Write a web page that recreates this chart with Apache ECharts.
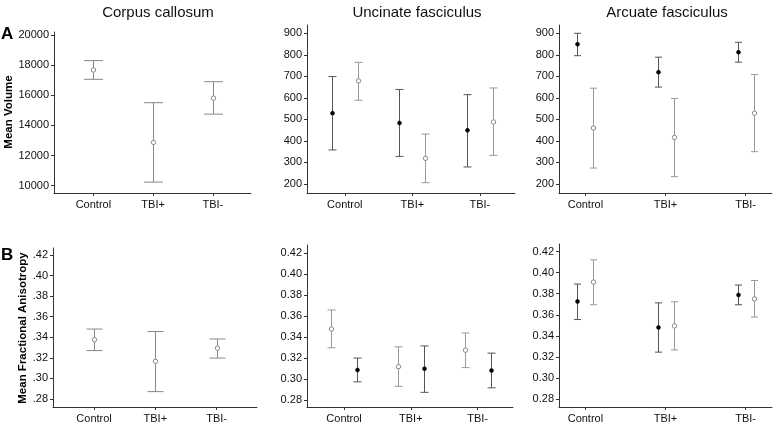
<!DOCTYPE html>
<html>
<head>
<meta charset="utf-8">
<script src="https://cdn.jsdelivr.net/npm/echarts@6/dist/echarts.min.js"></script>
<style>
  html,body{margin:0;padding:0;background:#fff;}
  #chart{width:773px;height:424px;}
</style>
</head>
<body>
<div id="chart"></div>
<script>
// groups on the x axis
var groups = ['Control', 'TBI+', 'TBI-'];
var volTicks = [200, 300, 400, 500, 600, 700, 800, 900];
var ccVolTicks = [10000, 12000, 14000, 16000, 18000, 20000];
var faTicks = [0.28, 0.30, 0.32, 0.34, 0.36, 0.38, 0.40, 0.42];

// A: volume
var ccVolMean = [17680, 12870, 15810];
var ccVolLow = [17060, 10240, 14750];
var ccVolHigh = [18300, 15510, 16900];

var ufVolMeanF = [529, 483, 449];
var ufVolLowF = [358, 328, 279];
var ufVolHighF = [699, 639, 615];
var ufVolMeanO = [679, 319, 488];
var ufVolLowO = [589, 206, 333];
var ufVolHighO = [765, 432, 646];

var afVolMeanF = [849, 719, 812];
var afVolLowF = [796, 650, 766];
var afVolHighF = [900, 789, 858];
var afVolMeanO = [460, 416, 529];
var afVolLowO = [274, 234, 350];
var afVolHighO = [645, 597, 708];

// B: fractional anisotropy
var ccFaMean = [0.3376, 0.3165, 0.3293];
var ccFaLow = [0.3270, 0.2870, 0.3197];
var ccFaHigh = [0.3480, 0.3456, 0.3383];

var ufFaMeanO = [0.3477, 0.3118, 0.3275];
var ufFaLowO = [0.3298, 0.2930, 0.3109];
var ufFaHighO = [0.3659, 0.3307, 0.3439];
var ufFaMeanF = [0.3086, 0.3099, 0.3081];
var ufFaLowF = [0.2973, 0.2873, 0.2916];
var ufFaHighF = [0.3200, 0.3316, 0.3247];

var afFaMeanF = [0.3726, 0.3480, 0.3788];
var afFaLowF = [0.3555, 0.3246, 0.3695];
var afFaHighF = [0.3891, 0.3713, 0.3882];
var afFaMeanO = [0.3910, 0.3495, 0.3751];
var afFaLowO = [0.3695, 0.3267, 0.3579];
var afFaHighO = [0.4121, 0.3723, 0.3925];

var FONT = '"Liberation Sans", Arial, sans-serif';
var AXIS_COLOR = '#333';

function rows(mean, low, high) {
  return groups.map(function (g, i) { return [i, mean[i], low[i], high[i]]; });
}

// error bar + point
function errSeries(idx, data, offset, capW, barColor, filled) {
  return {
    type: 'custom',
    xAxisIndex: idx,
    yAxisIndex: idx,
    data: data,
    encode: { x: 0, y: [1, 2, 3] },
    silent: true,
    renderItem: function (params, api) {
      var pm = api.coord([api.value(0), api.value(1)]);
      var pl = api.coord([api.value(0), api.value(2)]);
      var ph = api.coord([api.value(0), api.value(3)]);
      var cx = Math.round(pm[0] + offset) + 0.5;
      var ls = { stroke: barColor, lineWidth: 1 };
      return {
        type: 'group',
        children: [
          { type: 'line', shape: { x1: cx, y1: ph[1], x2: cx, y2: pl[1] }, style: ls },
          { type: 'line', shape: { x1: cx - capW / 2, y1: ph[1], x2: cx + capW / 2, y2: ph[1] }, style: ls },
          { type: 'line', shape: { x1: cx - capW / 2, y1: pl[1], x2: cx + capW / 2, y2: pl[1] }, style: ls },
          filled
            ? { type: 'circle', shape: { cx: cx, cy: pm[1], r: 2 }, style: { fill: '#000', stroke: '#000', lineWidth: 0.5 } }
            : { type: 'circle', shape: { cx: cx, cy: pm[1], r: 2.2 }, style: { fill: '#fff', stroke: '#888', lineWidth: 1 } }
        ]
      };
    }
  };
}

// panel layout: grid box, x range, y range
var panels = [
  { left: 54, top: 32, width: 197, height: 161, xmin: -0.66, xmax: 2.64, ymin: 9517, ymax: 20199, ticks: ccVolTicks, fmt: function (v) { return String(v); } },
  { left: 307, top: 25, width: 208, height: 168, xmin: -0.56, xmax: 2.52, ymin: 158, ymax: 938.5, ticks: volTicks, fmt: function (v) { return String(v); } },
  { left: 559, top: 25, width: 213, height: 168, xmin: -0.33, xmax: 2.33, ymin: 158, ymax: 938.5, ticks: volTicks, fmt: function (v) { return String(v); } },
  { left: 53, top: 248, width: 204, height: 161, xmin: -0.67, xmax: 2.66, ymin: 0.272, ymax: 0.427, ticks: faTicks, fmt: function (v) { return v.toFixed(2).replace(/^0/, ''); } },
  { left: 307, top: 245, width: 206, height: 164, xmin: -0.555, xmax: 2.53, ymin: 0.2733, ymax: 0.4279, ticks: faTicks, fmt: function (v) { return v.toFixed(2); } },
  { left: 559, top: 244, width: 213, height: 165, xmin: -0.33, xmax: 2.33, ymin: 0.2726, ymax: 0.4271, ticks: faTicks, fmt: function (v) { return v.toFixed(2); } }
];

var grids = [], xAxes = [], yAxes = [];
panels.forEach(function (p) {
  grids.push({ left: p.left, top: p.top, width: p.width, height: p.height });
  xAxes.push({
    type: 'value', gridIndex: grids.length - 1, min: p.xmin, max: p.xmax,
    splitLine: { show: false },
    axisLine: { show: true, onZero: false, lineStyle: { color: AXIS_COLOR, width: 1 } },
    axisTick: { show: true, length: 3, customValues: [0, 1, 2], lineStyle: { color: AXIS_COLOR } },
    axisLabel: {
      customValues: [0, 1, 2], margin: 6, color: '#111', fontSize: 11, fontFamily: FONT,
      formatter: function (v) { return groups[Math.round(v)]; }
    }
  });
  yAxes.push({
    type: 'value', gridIndex: grids.length - 1, min: p.ymin, max: p.ymax,
    splitLine: { show: false },
    axisLine: { show: true, onZero: false, lineStyle: { color: AXIS_COLOR, width: 1 } },
    axisTick: { show: true, length: 3, customValues: p.ticks, lineStyle: { color: AXIS_COLOR } },
    axisLabel: {
      customValues: p.ticks, margin: 5, color: '#111', fontSize: 11, fontFamily: FONT,
      formatter: p.fmt
    }
  });
});

var DARK = '#555', LIGHT = '#999';

var series = [
  errSeries(0, rows(ccVolMean, ccVolLow, ccVolHigh), 0, 19, '#888', false),
  errSeries(1, rows(ufVolMeanF, ufVolLowF, ufVolHighF), -13, 8, DARK, true),
  errSeries(1, rows(ufVolMeanO, ufVolLowO, ufVolHighO), 13, 8, LIGHT, false),
  errSeries(2, rows(afVolMeanF, afVolLowF, afVolHighF), -8, 7, DARK, true),
  errSeries(2, rows(afVolMeanO, afVolLowO, afVolHighO), 8, 7, LIGHT, false),
  errSeries(3, rows(ccFaMean, ccFaLow, ccFaHigh), 0, 16, '#888', false),
  errSeries(4, rows(ufFaMeanO, ufFaLowO, ufFaHighO), -13, 8, LIGHT, false),
  errSeries(4, rows(ufFaMeanF, ufFaLowF, ufFaHighF), 13, 8, DARK, true),
  errSeries(5, rows(afFaMeanF, afFaLowF, afFaHighF), -8, 7, DARK, true),
  errSeries(5, rows(afFaMeanO, afFaLowO, afFaHighO), 8, 7, LIGHT, false)
];

var titleStyle = { fontSize: 15, fontWeight: 'normal', color: '#111', fontFamily: FONT };

var chart = echarts.init(document.getElementById('chart'), null, { renderer: 'canvas' });
chart.setOption({
  backgroundColor: '#fff',
  animation: false,
  title: [
    { text: 'Corpus callosum', left: 153, top: 0, textAlign: 'center', textStyle: titleStyle },
    { text: 'Uncinate fasciculus', left: 412, top: 0, textAlign: 'center', textStyle: titleStyle },
    { text: 'Arcuate fasciculus', left: 662, top: 0, textAlign: 'center', textStyle: titleStyle }
  ],
  graphic: [
    { type: 'text', left: 1, top: 26, style: { text: 'A', font: 'bold 17px ' + FONT, fill: '#000' } },
    { type: 'text', left: 1, top: 247, style: { text: 'B', font: 'bold 17px ' + FONT, fill: '#000' } },
    { type: 'text', x: 9, y: 112, rotation: Math.PI / 2,
      style: { text: 'Mean Volume', font: 'bold 11.5px ' + FONT, fill: '#000', align: 'center', verticalAlign: 'middle' } },
    { type: 'text', x: 23, y: 328, rotation: Math.PI / 2,
      style: { text: 'Mean Fractional Anisotropy', font: 'bold 11.5px ' + FONT, fill: '#000', align: 'center', verticalAlign: 'middle' } }
  ],
  grid: grids,
  xAxis: xAxes,
  yAxis: yAxes,
  series: series
});
</script>
</body>
</html>
